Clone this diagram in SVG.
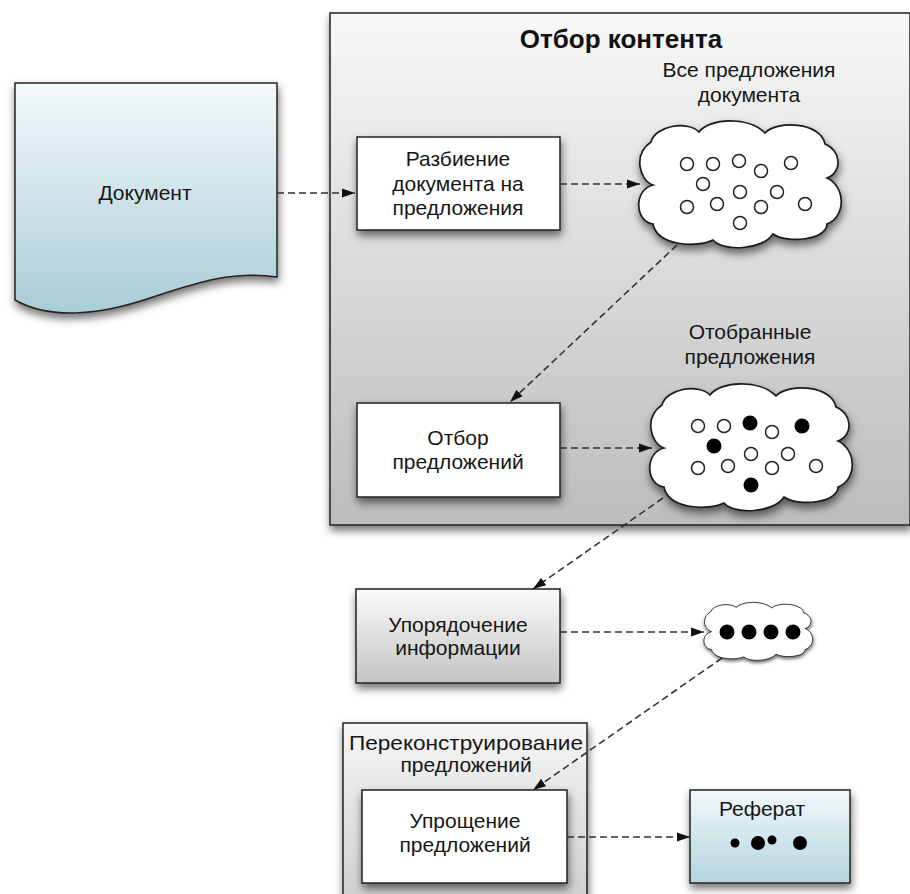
<svg xmlns="http://www.w3.org/2000/svg" width="910" height="894" viewBox="0 0 910 894">
<defs>
<linearGradient id="gDoc" x1="0" y1="0" x2="0" y2="1"><stop offset="0" stop-color="#f4f9fb"/><stop offset="1" stop-color="#a9cdd7"/></linearGradient>
<linearGradient id="gRef" x1="0" y1="0" x2="0" y2="1"><stop offset="0" stop-color="#f1f8fa"/><stop offset="1" stop-color="#b4d4de"/></linearGradient>
<linearGradient id="gCont" x1="0" y1="0" x2="0" y2="1"><stop offset="0" stop-color="#f8f8f8"/><stop offset="1" stop-color="#bcbcbc"/></linearGradient>
<linearGradient id="gBox" x1="0" y1="0" x2="0" y2="1"><stop offset="0" stop-color="#fbfbfb"/><stop offset="1" stop-color="#c4c4c4"/></linearGradient>
<linearGradient id="gOuter" x1="0" y1="0" x2="0" y2="1"><stop offset="0" stop-color="#f6f6f6"/><stop offset="1" stop-color="#cdcdcd"/></linearGradient>
<filter id="sh" x="-20%" y="-20%" width="140%" height="150%"><feDropShadow dx="1" dy="5" stdDeviation="4" flood-color="#000" flood-opacity="0.55"/></filter>
<marker id="ah" markerUnits="userSpaceOnUse" markerWidth="14" markerHeight="10" refX="13" refY="5" orient="auto"><path d="M0,0.5 L13,5 L0,9.5 Z" fill="#111"/></marker>
<path id="cloud" d="M16,65 C2,60 -4,34 14,22 C18,6 50,0 62,12 C72,-2 112,-4 128,13 C140,0 184,2 188,24 C204,30 206,52 190,58 C208,66 210,96 190,104 C190,120 150,124 136,114 C126,130 86,132 76,120 C60,128 20,126 16,104 C-2,102 -4,70 16,65 Z"/>
</defs>
<style>
.t{font-family:"Liberation Sans",Arial,sans-serif;font-size:21px;fill:#161616;text-anchor:middle}
.tb{font-family:"Liberation Sans",Arial,sans-serif;font-size:26px;font-weight:bold;fill:#111;text-anchor:middle}
.box{stroke:#222;stroke-width:1.5}
.cl{fill:#fff;stroke:#1a1a1a;stroke-width:1.7}
.o{fill:#fff;stroke:#222;stroke-width:1.5}
.f{fill:#000}
.c{fill:none;stroke:#333;stroke-width:1.6;stroke-dasharray:7,4;marker-end:url(#ah)}
</style>

<g id="document">
<path d="M15,83 L277,83 L277,277 C230,270 190,285 150,298 C100,315 50,320 15,300 Z" fill="url(#gDoc)" class="box" filter="url(#sh)"/>
<text class="t" x="145" y="200">Документ</text>
</g>

<g id="content-selection">
<rect x="330" y="13" width="580" height="512" fill="url(#gCont)" class="box" filter="url(#sh)"/>
<text class="tb" x="621" y="48">Отбор контента</text>
</g>

<g id="split">
<rect x="357" y="137" width="203" height="93" fill="#fff" class="box" filter="url(#sh)"/>
<text class="t" x="458" y="166">Разбиение</text>
<text class="t" x="458" y="191">документа на</text>
<text class="t" x="458" y="215">предложения</text>
</g>

<g id="all-sentences">
<text class="t" x="749" y="77">Все предложения</text>
<text class="t" x="749" y="102">документа</text>
<use href="#cloud" transform="translate(637,120)" class="cl" filter="url(#sh)"/>
<g class="o">
<circle cx="687" cy="164" r="6.5"/><circle cx="713" cy="164" r="6.5"/><circle cx="739" cy="161" r="6.5"/><circle cx="761" cy="171" r="6.5"/><circle cx="791" cy="163" r="6.5"/>
<circle cx="703" cy="184" r="6.5"/><circle cx="740" cy="192" r="6.5"/><circle cx="777" cy="192" r="6.5"/>
<circle cx="687" cy="207" r="6.5"/><circle cx="717" cy="204" r="6.5"/><circle cx="761" cy="207" r="6.5"/><circle cx="805" cy="204" r="6.5"/>
<circle cx="740" cy="223" r="6.5"/>
</g>
</g>

<g id="select">
<rect x="357" y="403" width="203" height="94" fill="#fff" class="box" filter="url(#sh)"/>
<text class="t" x="458" y="445">Отбор</text>
<text class="t" x="458" y="469">предложений</text>
</g>

<g id="selected-sentences">
<text class="t" x="750" y="339">Отобранные</text>
<text class="t" x="750" y="364">предложения</text>
<use href="#cloud" transform="translate(648,383)" class="cl" filter="url(#sh)"/>
<g class="o">
<circle cx="698" cy="426" r="6.5"/><circle cx="724" cy="426" r="6.5"/><circle cx="772" cy="432" r="6.5"/>
<circle cx="751" cy="454" r="6.5"/><circle cx="788" cy="454" r="6.5"/>
<circle cx="698" cy="468" r="6.5"/><circle cx="728" cy="466" r="6.5"/><circle cx="772" cy="468" r="6.5"/><circle cx="816" cy="466" r="6.5"/>
</g>
<g class="f">
<circle cx="750" cy="423" r="7.5"/><circle cx="802" cy="426" r="7.5"/><circle cx="714" cy="446" r="7.5"/><circle cx="751" cy="485" r="7.5"/>
</g>
</g>

<g id="ordering">
<rect x="356" y="589" width="204" height="94" fill="url(#gBox)" class="box" filter="url(#sh)"/>
<text class="t" x="458" y="632">Упорядочение</text>
<text class="t" x="458" y="655">информации</text>
</g>

<g id="ordered">
<use href="#cloud" transform="translate(703,602) scale(0.537,0.457)" class="cl" style="vector-effect:non-scaling-stroke" filter="url(#sh)"/>
<g class="f">
<circle cx="727" cy="632" r="7.5"/><circle cx="749" cy="632" r="7.5"/><circle cx="771" cy="632" r="7.5"/><circle cx="793" cy="632" r="7.5"/>
</g>
</g>

<g id="reconstruction">
<rect x="343" y="723" width="244" height="185" fill="url(#gOuter)" class="box" filter="url(#sh)"/>
<text class="t" x="466" y="750" textLength="234" lengthAdjust="spacingAndGlyphs">Переконструирование</text>
<text class="t" x="466" y="772">предложений</text>
</g>

<g id="simplify">
<rect x="362" y="790" width="205" height="93" fill="#fff" class="box" filter="url(#sh)"/>
<text class="t" x="465" y="828">Упрощение</text>
<text class="t" x="465" y="852">предложений</text>
</g>

<g id="summary">
<rect x="690" y="790" width="160" height="93" fill="url(#gRef)" class="box" filter="url(#sh)"/>
<text class="t" x="762" y="816">Реферат</text>
<circle cx="735" cy="843" r="4.5" class="f"/><circle cx="758" cy="843" r="7" class="f"/><circle cx="772" cy="840" r="4.5" class="f"/><circle cx="800" cy="843" r="7" class="f"/>
</g>

<g id="connectors">
<path class="c" d="M277,193 L355,193"/>
<path class="c" d="M560,184 L640,184"/>
<path class="c" d="M677,245 L510,402"/>
<path class="c" d="M560,448 L652,448"/>
<path class="c" d="M663,498 L533,589"/>
<path class="c" d="M560,632 L704,632"/>
<path class="c" d="M722,658 L533,790"/>
<path class="c" d="M567,837 L690,837"/>
</g>
</svg>
